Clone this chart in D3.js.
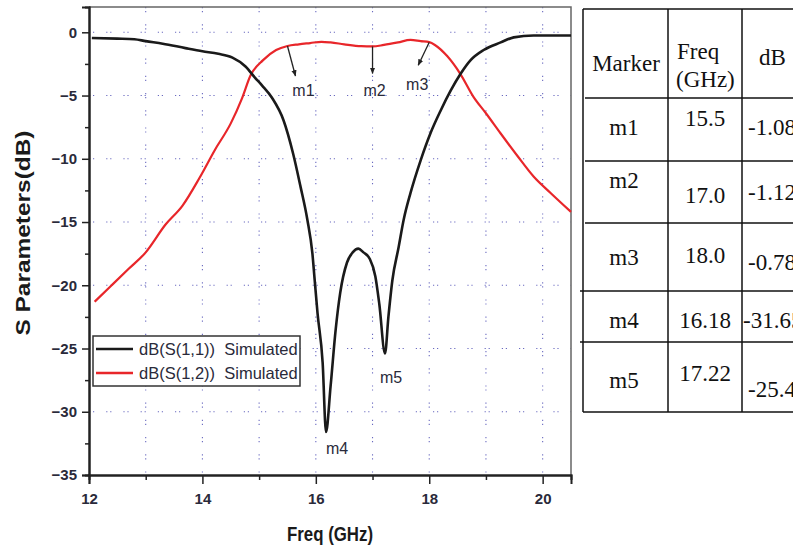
<!DOCTYPE html>
<html>
<head>
<meta charset="utf-8">
<script src="https://cdn.jsdelivr.net/npm/d3@7"></script>
<style>
  body { margin: 0; background: #fff; }
  svg { display: block; }
</style>
</head>
<body>
<script>
const width = 793, height = 546;

// S11 (black)
const s11Freq = [12.05, 12.5, 12.8, 13.0, 13.3, 13.7, 14.0, 14.28, 14.53, 14.76, 14.93, 15.05, 15.23, 15.43, 15.6, 15.73, 15.85, 15.94, 15.98, 16.03, 16.12, 16.18, 16.26, 16.35, 16.43, 16.55, 16.65, 16.75, 16.84, 16.95, 17.05, 17.12, 17.22, 17.28, 17.35, 17.46, 17.55, 17.67, 17.85, 18.02, 18.2, 18.38, 18.55, 18.73, 18.96, 19.26, 19.49, 19.84, 20.5];
const s11dB = [-0.45, -0.5, -0.55, -0.7, -0.9, -1.25, -1.5, -1.7, -2.0, -2.7, -3.6, -4.2, -5.2, -6.95, -9.6, -12.2, -14.8, -17.5, -19.6, -22.2, -26.1, -31.6, -28.0, -23.5, -20.6, -18.2, -17.4, -17.1, -17.4, -17.9, -19.3, -21.5, -25.4, -22.5, -19.6, -17.0, -14.8, -12.7, -10.1, -8.0, -6.2, -4.6, -3.3, -2.2, -1.4, -0.8, -0.4, -0.25, -0.25];

// S12 (red)
const s12Freq = [12.1, 12.4, 12.7, 13.0, 13.35, 13.65, 13.95, 14.22, 14.5, 14.7, 14.85, 15.07, 15.3, 15.5, 15.7, 15.9, 16.1, 16.26, 16.5, 16.8, 17.0, 17.2, 17.45, 17.67, 17.85, 18.0, 18.1, 18.32, 18.55, 18.78, 19.0, 19.26, 19.56, 19.84, 20.14, 20.5];
const s12dB = [-21.3, -20.0, -18.7, -17.4, -15.2, -13.7, -11.5, -9.3, -7.2, -5.2, -3.4, -2.2, -1.4, -1.08, -0.95, -0.85, -0.75, -0.8, -0.95, -1.1, -1.12, -1.0, -0.8, -0.6, -0.7, -0.78, -1.0, -1.9, -3.3, -5.1, -6.4, -8.0, -9.8, -11.4, -12.7, -14.2];

const seriesNames = ["dB(S(1,1))  Simulated", "dB(S(1,2))  Simulated"];
const seriesColors = ["#1a1a1a", "#e8262a"];

// markers (also the table)
const markerNames = ["m1", "m2", "m3", "m4", "m5"];
const markerFreq = ["15.5", "17.0", "18.0", "16.18", "17.22"];
const markerdB = ["-1.08", "-1.12", "-0.78", "-31.65", "-25.43"];

const xTicks = [12, 14, 16, 18, 20];
const yTicks = [0, -5, -10, -15, -20, -25, -30, -35];

const margin = {left: 89, top: 7, right: 571, bottom: 475};

const svg = d3.select("body").append("svg")
	.attr("width", width)
	.attr("height", height)
	.style("font-family", "Arial, 'Liberation Sans', sans-serif");

const x = d3.scaleLinear().domain([12, 20.5]).range([margin.left, margin.right]);
const y = d3.scaleLinear().domain([-35, 2]).range([margin.bottom, margin.top]);

const gridColor = "#6a6ac0";
const gridDash = "1.2,2.8,1.2,12";

// grid
svg.append("g").selectAll("line")
	.data(d3.range(13, 21))
	.join("line")
	.attr("x1", d => x(d)).attr("x2", d => x(d))
	.attr("y1", margin.top).attr("y2", margin.bottom)
	.attr("stroke", gridColor).attr("stroke-width", 1.1)
	.attr("stroke-dasharray", gridDash);

svg.append("g").selectAll("line")
	.data(d3.range(0, -31, -5))
	.join("line")
	.attr("x1", margin.left).attr("x2", margin.right)
	.attr("y1", d => y(d)).attr("y2", d => y(d))
	.attr("stroke", gridColor).attr("stroke-width", 1.1)
	.attr("stroke-dasharray", gridDash);

// frame top/right
svg.append("path")
	.attr("d", `M${margin.left},${margin.top}H${margin.right}V${margin.bottom}`)
	.attr("fill", "none").attr("stroke", "#666").attr("stroke-width", 1.5);

// axes
svg.append("g")
	.attr("transform", `translate(${margin.left},0)`)
	.call(d3.axisLeft(y).tickValues(yTicks).tickSize(7).tickPadding(5).tickFormat(d3.format("d")));
svg.append("g")
	.attr("transform", `translate(${margin.left},0)`)
	.call(d3.axisLeft(y).tickValues(d3.range(-2.5, -35, -5)).tickSize(4).tickFormat(""));

svg.append("g")
	.attr("transform", `translate(0,${margin.bottom})`)
	.call(d3.axisBottom(x).tickValues(xTicks).tickSize(9).tickPadding(9).tickFormat(d3.format("d")));
svg.append("g")
	.attr("transform", `translate(0,${margin.bottom})`)
	.call(d3.axisBottom(x).tickValues([13, 15, 17, 19]).tickSize(5).tickFormat(""));

svg.selectAll(".domain").attr("stroke", "#222").attr("stroke-width", 2);
svg.selectAll(".tick line").attr("stroke", "#222").attr("stroke-width", 1.5);
svg.selectAll(".tick text")
	.attr("font-size", 15)
	.attr("font-weight", "bold")
	.attr("fill", "#2a2a3a")
	.style("font-family", "Arial, 'Liberation Sans', sans-serif");

// axis titles
svg.append("text")
	.attr("x", 330).attr("y", 541)
	.attr("text-anchor", "middle")
	.attr("font-size", 20).attr("font-weight", "bold")
	.attr("textLength", 86).attr("lengthAdjust", "spacingAndGlyphs")
	.attr("fill", "#1a1a1a")
	.text("Freq (GHz)");

svg.append("text")
	.attr("transform", "translate(30,233) rotate(-90)")
	.attr("text-anchor", "middle")
	.attr("font-size", 21).attr("font-weight", "bold")
	.attr("textLength", 205).attr("lengthAdjust", "spacingAndGlyphs")
	.attr("fill", "#1a1a1a")
	.text("S Parameters(dB)");

// curves
const line = d3.line()
	.x(d => x(d[0]))
	.y(d => y(d[1]))
	.curve(d3.curveMonotoneX);

svg.append("path")
	.datum(d3.zip(s12Freq, s12dB))
	.attr("d", line)
	.attr("fill", "none").attr("stroke", seriesColors[1]).attr("stroke-width", 2.2);

svg.append("path")
	.datum(d3.zip(s11Freq, s11dB))
	.attr("d", line)
	.attr("fill", "none").attr("stroke", seriesColors[0]).attr("stroke-width", 2.6);

// marker arrows and labels
svg.append("defs").append("marker")
	.attr("id", "arr")
	.attr("viewBox", "0 0 10 10")
	.attr("refX", 9).attr("refY", 5)
	.attr("markerWidth", 5).attr("markerHeight", 6)
	.attr("orient", "auto")
	.append("path").attr("d", "M0,1L10,5L0,9Z").attr("fill", "#222");

// arrow direction / label offset for each marker
const arrowOff = [[8, 30], [0, 27], [-11, 23], null, null];
const labelOff = [[16, 50], [2, 50], [-12, 48], [11, 21], [6, 29]];

markerNames.forEach((m, i) => {
	const px = x(+markerFreq[i]), py = y(+markerdB[i]);
	if (arrowOff[i]) {
		svg.append("line")
			.attr("x1", px).attr("y1", py)
			.attr("x2", px + arrowOff[i][0]).attr("y2", py + arrowOff[i][1])
			.attr("stroke", "#222").attr("stroke-width", 1.3)
			.attr("marker-end", "url(#arr)");
	}
	svg.append("text")
		.attr("x", px + labelOff[i][0]).attr("y", py + labelOff[i][1])
		.attr("text-anchor", "middle")
		.attr("font-size", 16)
		.attr("fill", "#2a2a3a")
		.text(m);
});

// legend
const legend = svg.append("g");
legend.append("rect")
	.attr("x", 93).attr("y", 336).attr("width", 207).attr("height", 50)
	.attr("fill", "#fff").attr("stroke", "#333").attr("stroke-width", 1.5);
seriesNames.forEach((s, i) => {
	legend.append("line")
		.attr("x1", 96).attr("x2", 133)
		.attr("y1", 349 + i * 24).attr("y2", 349 + i * 24)
		.attr("stroke", seriesColors[i]).attr("stroke-width", 2.5);
	legend.append("text")
		.attr("x", 139).attr("y", 355 + i * 24)
		.attr("font-size", 16.5)
		.attr("fill", "#2a2a3a")
		.style("white-space", "pre")
		.text(s);
});

// table
const tbl = svg.append("g")
	.style("font-family", "'Liberation Serif', 'Times New Roman', serif")
	.attr("font-size", 23)
	.attr("fill", "#111");

const colX = [583, 668, 742, 800];
const rowY = [9, 98, 161, 223, 291, 342, 412];

tbl.append("line").attr("x1", colX[0]).attr("x2", width).attr("y1", rowY[0]).attr("y2", rowY[0]);
tbl.append("line").attr("x1", colX[0]).attr("x2", width).attr("y1", rowY[6]).attr("y2", rowY[6]);
rowY.slice(1, 6).forEach((ry, i) => {
	tbl.append("line").attr("x1", i >= 3 ? 580 : 585).attr("x2", width).attr("y1", ry).attr("y2", ry);
});
colX.slice(0, 3).forEach(cx => {
	tbl.append("line").attr("x1", cx).attr("x2", cx).attr("y1", rowY[0]).attr("y2", rowY[6]);
});
tbl.selectAll("line").attr("stroke", "#111").attr("stroke-width", 1.5);

tbl.append("text").attr("x", 626).attr("y", 71).attr("text-anchor", "middle").text("Marker");
tbl.append("text").attr("x", 677).attr("y", 59).text("Freq");
tbl.append("text").attr("x", 676).attr("y", 87).text("(GHz)");
tbl.append("text").attr("x", 759).attr("y", 65).text("dB");

const nameBase = [135, 188, 265, 328, 388];
const freqBase = [126, 203, 263, 328, 381];
const dbBase = [135, 200, 270, 328, 397];
markerNames.forEach((m, i) => {
	tbl.append("text").attr("x", 624).attr("y", nameBase[i]).attr("text-anchor", "middle").text(m);
	tbl.append("text").attr("x", 705).attr("y", freqBase[i]).attr("text-anchor", "middle").text(markerFreq[i]);
	tbl.append("text").attr("x", i === 3 ? 743 : 748).attr("y", dbBase[i]).text(markerdB[i]);
});
</script>
</body>
</html>
